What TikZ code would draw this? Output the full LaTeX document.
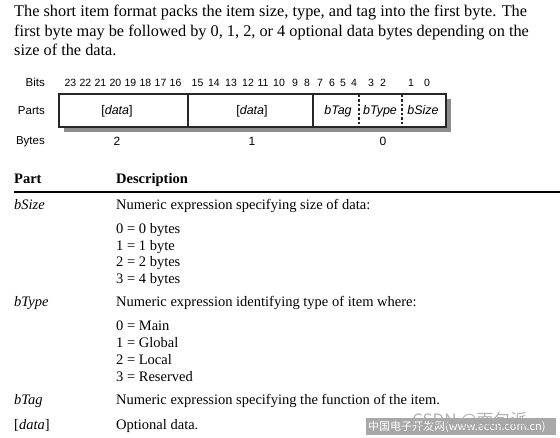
\documentclass[tikz,border=0pt]{standalone}
\usepackage{fontspec}
\setmainfont{Liberation Serif}
\setsansfont{Liberation Sans}
\newfontfamily\cjk{Noto Sans CJK SC}
\begin{document}
\begin{tikzpicture}[x=1pt,y=-1pt,
  para/.style={anchor=base west,inner sep=0pt,font=\fontsize{16.3}{19}\selectfont},
  body/.style={anchor=base west,inner sep=0pt,font=\fontsize{14.5}{16}\selectfont},
  bitno/.style={anchor=base,inner sep=0pt,font=\sffamily\fontsize{10.5}{12}\selectfont},
  rowlab/.style={anchor=base east,inner sep=0pt,font=\sffamily\fontsize{11.5}{13}\selectfont},
  partlab/.style={anchor=base,inner sep=0pt,font=\sffamily\itshape\fontsize{12.5}{14}\selectfont},
  frame/.style={draw=black!85,line width=2pt,fill=white},
  divider/.style={draw=black!85,line width=2pt},
  dashdiv/.style={draw=black!85,line width=1.2pt,dash pattern=on 2.5pt off 2pt}]
\useasboundingbox (0,0) rectangle (560,438);
\fill[white] (0,0) rectangle (560,438);

% intro paragraph
\node[para] (intro1) at (14,17) {The short item format packs the item size, type, and tag into the first byte. The};
\node[para] (intro2) at (14,36.5) {first byte may be followed by 0, 1, 2, or 4 optional data bytes depending on the};
\node[para] (intro3) at (14,56) {size of the data.};

% row labels
\node[rowlab] (bits) at (45,87) {Bits};
\node[rowlab] (parts) at (45,115) {Parts};
\node[rowlab] (bytes) at (45,145) {Bytes};

% bit numbers
\foreach \xx/\lab [count=\i] in {70.5/23,85.5/22,100.5/21,115.5/20,130.5/19,145.5/18,160.5/17,175.5/16,
  197.5/15,214/14,231/13,248/12,263/11,279/10,295/9,307/8,
  320/7,332/6,343/5,354/4,371/3,383/2,411/1,427/0}
  \node[bitno] (b\i) at (\xx,87) {\lab};

% box with shadow
\fill[black!45] (64,99) rectangle (451,132);
\path[frame] (59,94) rectangle (446,127);
\coordinate (d1t) at (188,94); \coordinate (d1b) at (188,127);
\coordinate (d2t) at (313,94); \coordinate (d2b) at (313,127);
\coordinate (d3t) at (359,95); \coordinate (d3b) at (359,126);
\coordinate (d4t) at (402,95); \coordinate (d4b) at (402,126);
\draw[divider] (d1t) -- (d1b);
\draw[divider] (d2t) -- (d2b);
\draw[dashdiv] (d3t) -- (d3b);
\draw[dashdiv] (d4t) -- (d4b);

\node[partlab,font=\sffamily\fontsize{12.5}{14}\selectfont] (p1) at (117,115) {[\textit{data}]};
\node[partlab,font=\sffamily\fontsize{12.5}{14}\selectfont] (p2) at (252,115) {[\textit{data}]};
\node[partlab] (p3) at (338,115) {bTag};
\node[partlab] (p4) at (380,115) {bType};
\node[partlab] (p5) at (423,115) {bSize};

\node[bitno,font=\sffamily\fontsize{12}{13}\selectfont] (y2) at (117,146) {2};
\node[bitno,font=\sffamily\fontsize{12}{13}\selectfont] (y1) at (252,146) {1};
\node[bitno,font=\sffamily\fontsize{12}{13}\selectfont] (y0) at (383,146) {0};

% table
\node[body,font=\bfseries\fontsize{14.5}{16}\selectfont] (hpart) at (14,184) {Part};
\node[body,font=\bfseries\fontsize{14.5}{16}\selectfont] (hdesc) at (116,184) {Description};
\coordinate (rl) at (14,192); \coordinate (rr) at (560,192);
\draw[line width=2pt] (rl) -- (rr);

\node[body] (r1) at (14,210) {\textit{bSize}};
\node[body] (r1d) at (116,210) {Numeric expression specifying size of data:};
\node[body] (s0) at (116,234) {0 = 0 bytes};
\node[body] (s1) at (116,251) {1 = 1 byte};
\node[body] (s2) at (116,267) {2 = 2 bytes};
\node[body] (s3) at (116,284) {3 = 4 bytes};

\node[body] (r2) at (14,307) {\textit{bType}};
\node[body] (r2d) at (116,307) {Numeric expression identifying type of item where:};
\node[body] (t0) at (116,331) {0 = Main};
\node[body] (t1) at (116,348) {1 = Global};
\node[body] (t2) at (116,365) {2 = Local};
\node[body] (t3) at (116,382) {3 = Reserved};

\node[body] (r3) at (14,405) {\textit{bTag}};
\node[body] (r3d) at (116,405) {Numeric expression specifying the function of the item.};
\node[body] (r4) at (14,429) {[\textit{data}]};
\node[body] (r4d) at (116,429) {Optional data.};

% watermark
\fill[black!40,opacity=0.85] (366,418) rectangle (556,435);
\node[anchor=base west,inner sep=0pt,text=white,font=\cjk\fontsize{11}{12}\selectfont] (wm1) at (368,431) {中国电子开发网(www.eccn.com.cn)};
\node[anchor=base west,inner sep=0pt,text=black!35,opacity=0.85,font=\cjk\fontsize{17}{18}\selectfont] (wm2) at (412,427) {CSDN @面包派};
\end{tikzpicture}
\end{document}
